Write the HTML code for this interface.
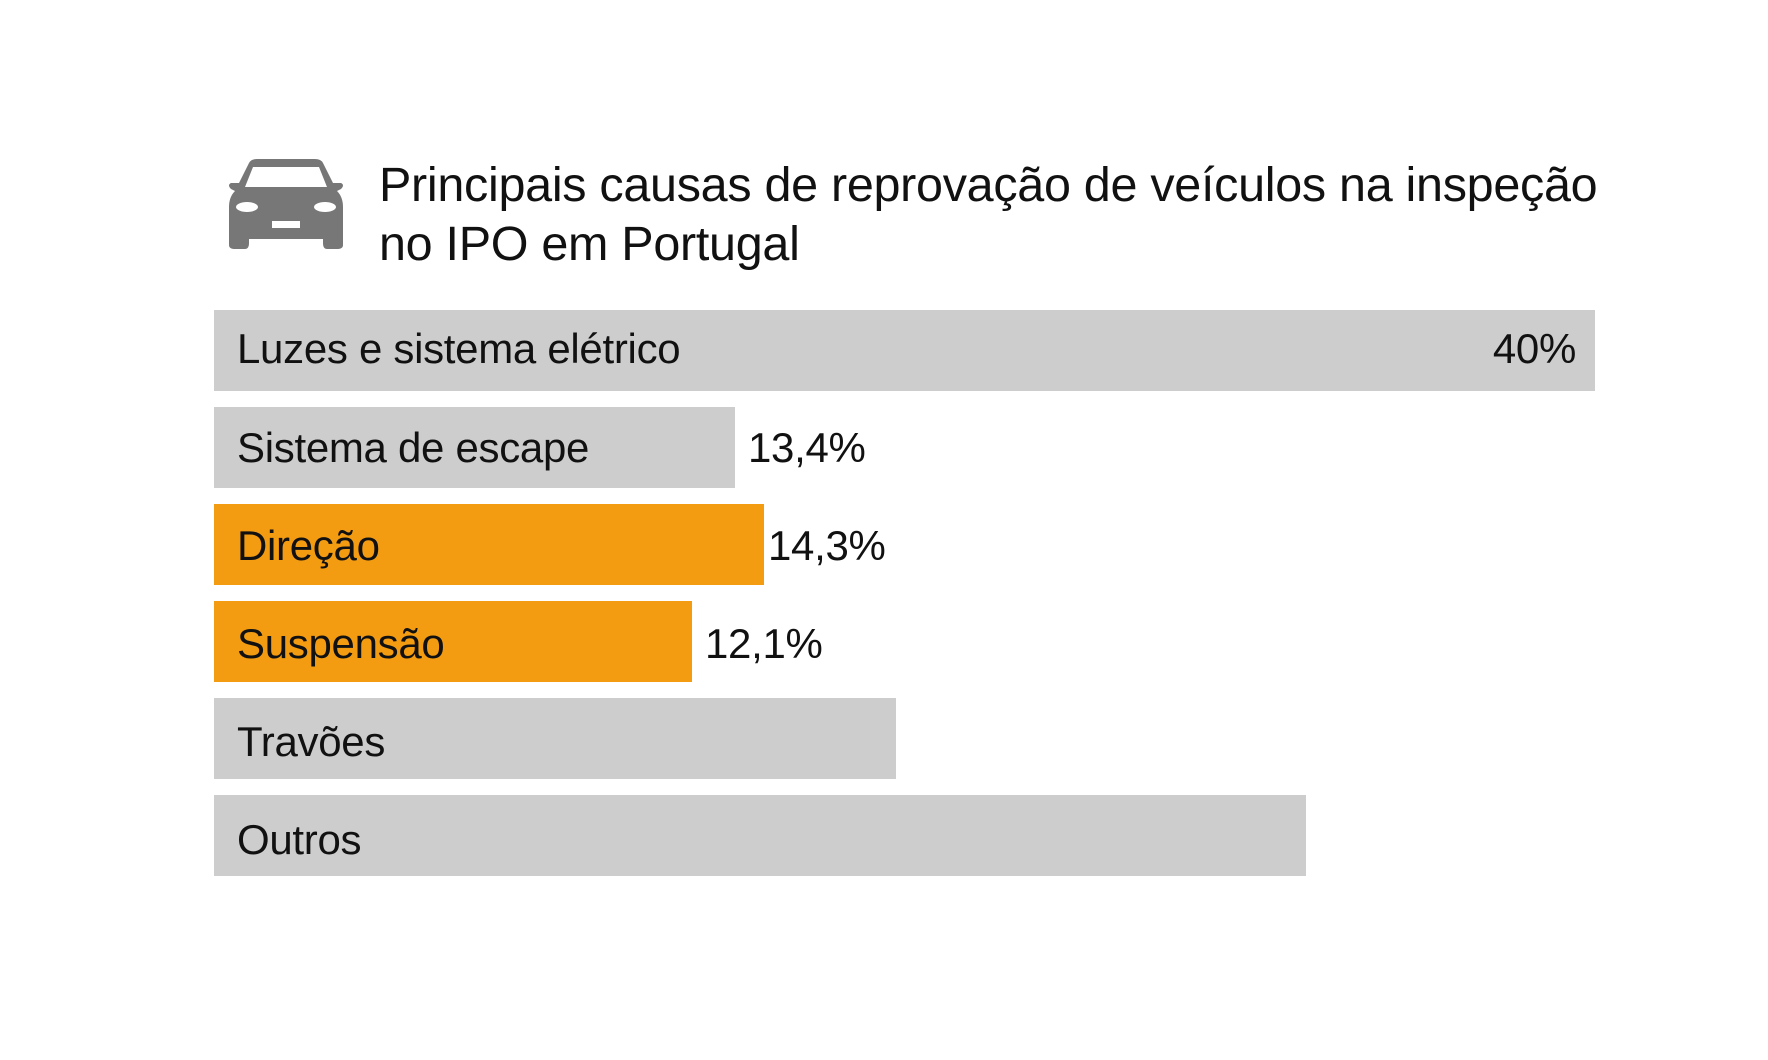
<!DOCTYPE html>
<html><head><meta charset="utf-8"><style>
body{margin:0;width:1768px;height:1060px;background:#fff;position:relative;overflow:hidden;font-family:"Liberation Sans",sans-serif;color:#111}
.t{position:absolute;left:379px;top:156px;font-size:48.5px;line-height:59px;white-space:nowrap;letter-spacing:-0.3px}
.bar{position:absolute;left:214px;height:81px;background:#cdcdcd}
.o{background:#f39c12}
.l{position:absolute;left:237px;font-size:42px;line-height:81px;white-space:nowrap;letter-spacing:-0.3px}
.v{position:absolute;font-size:42px;line-height:81px;white-space:nowrap;letter-spacing:-0.3px}
</style></head><body>
<svg style="position:absolute;left:227px;top:157px" width="118" height="92" viewBox="0 0 118 92">
<path d="M22 6 Q24 2 30 2 L88 2 Q94 2 96 6 L106 26 L114 26 Q118 28 114 32 L110 34 Q116 40 116 50 L116 88 Q116 92 110 92 L100 92 Q96 92 96 86 L96 82 L22 82 L22 86 Q22 92 18 92 L8 92 Q2 92 2 88 L2 50 Q2 40 8 34 L4 32 Q0 28 4 26 L12 26 Z" fill="#777"/>
<path d="M26 10 L92 10 L100 30 L18 30 Z" fill="#fff"/>
<ellipse cx="20" cy="50" rx="11" ry="5" fill="#fff"/>
<ellipse cx="98" cy="50" rx="11" ry="5" fill="#fff"/>
<rect x="45" y="64" width="28" height="7" fill="#fff"/>
</svg>
<div class="t">Principais causas de reprovação de veículos na inspeção<br>no IPO em Portugal</div>
<div class="bar" style="top:310px;width:1381px"></div>
<div class="l" style="top:308px">Luzes e sistema elétrico</div>
<div class="v" style="top:308px;right:192px">40%</div>
<div class="bar" style="top:407px;width:521px"></div>
<div class="l" style="top:407px">Sistema de escape</div>
<div class="v" style="top:407px;left:748px">13,4%</div>
<div class="bar o" style="top:504px;width:550px"></div>
<div class="l" style="top:505px">Direção</div>
<div class="v" style="top:505px;left:768px">14,3%</div>
<div class="bar o" style="top:601px;width:478px"></div>
<div class="l" style="top:603px">Suspensão</div>
<div class="v" style="top:603px;left:705px">12,1%</div>
<div class="bar" style="top:698px;width:682px"></div>
<div class="l" style="top:701px">Travões</div>
<div class="bar" style="top:795px;width:1092px"></div>
<div class="l" style="top:799px">Outros</div>
</body></html>
